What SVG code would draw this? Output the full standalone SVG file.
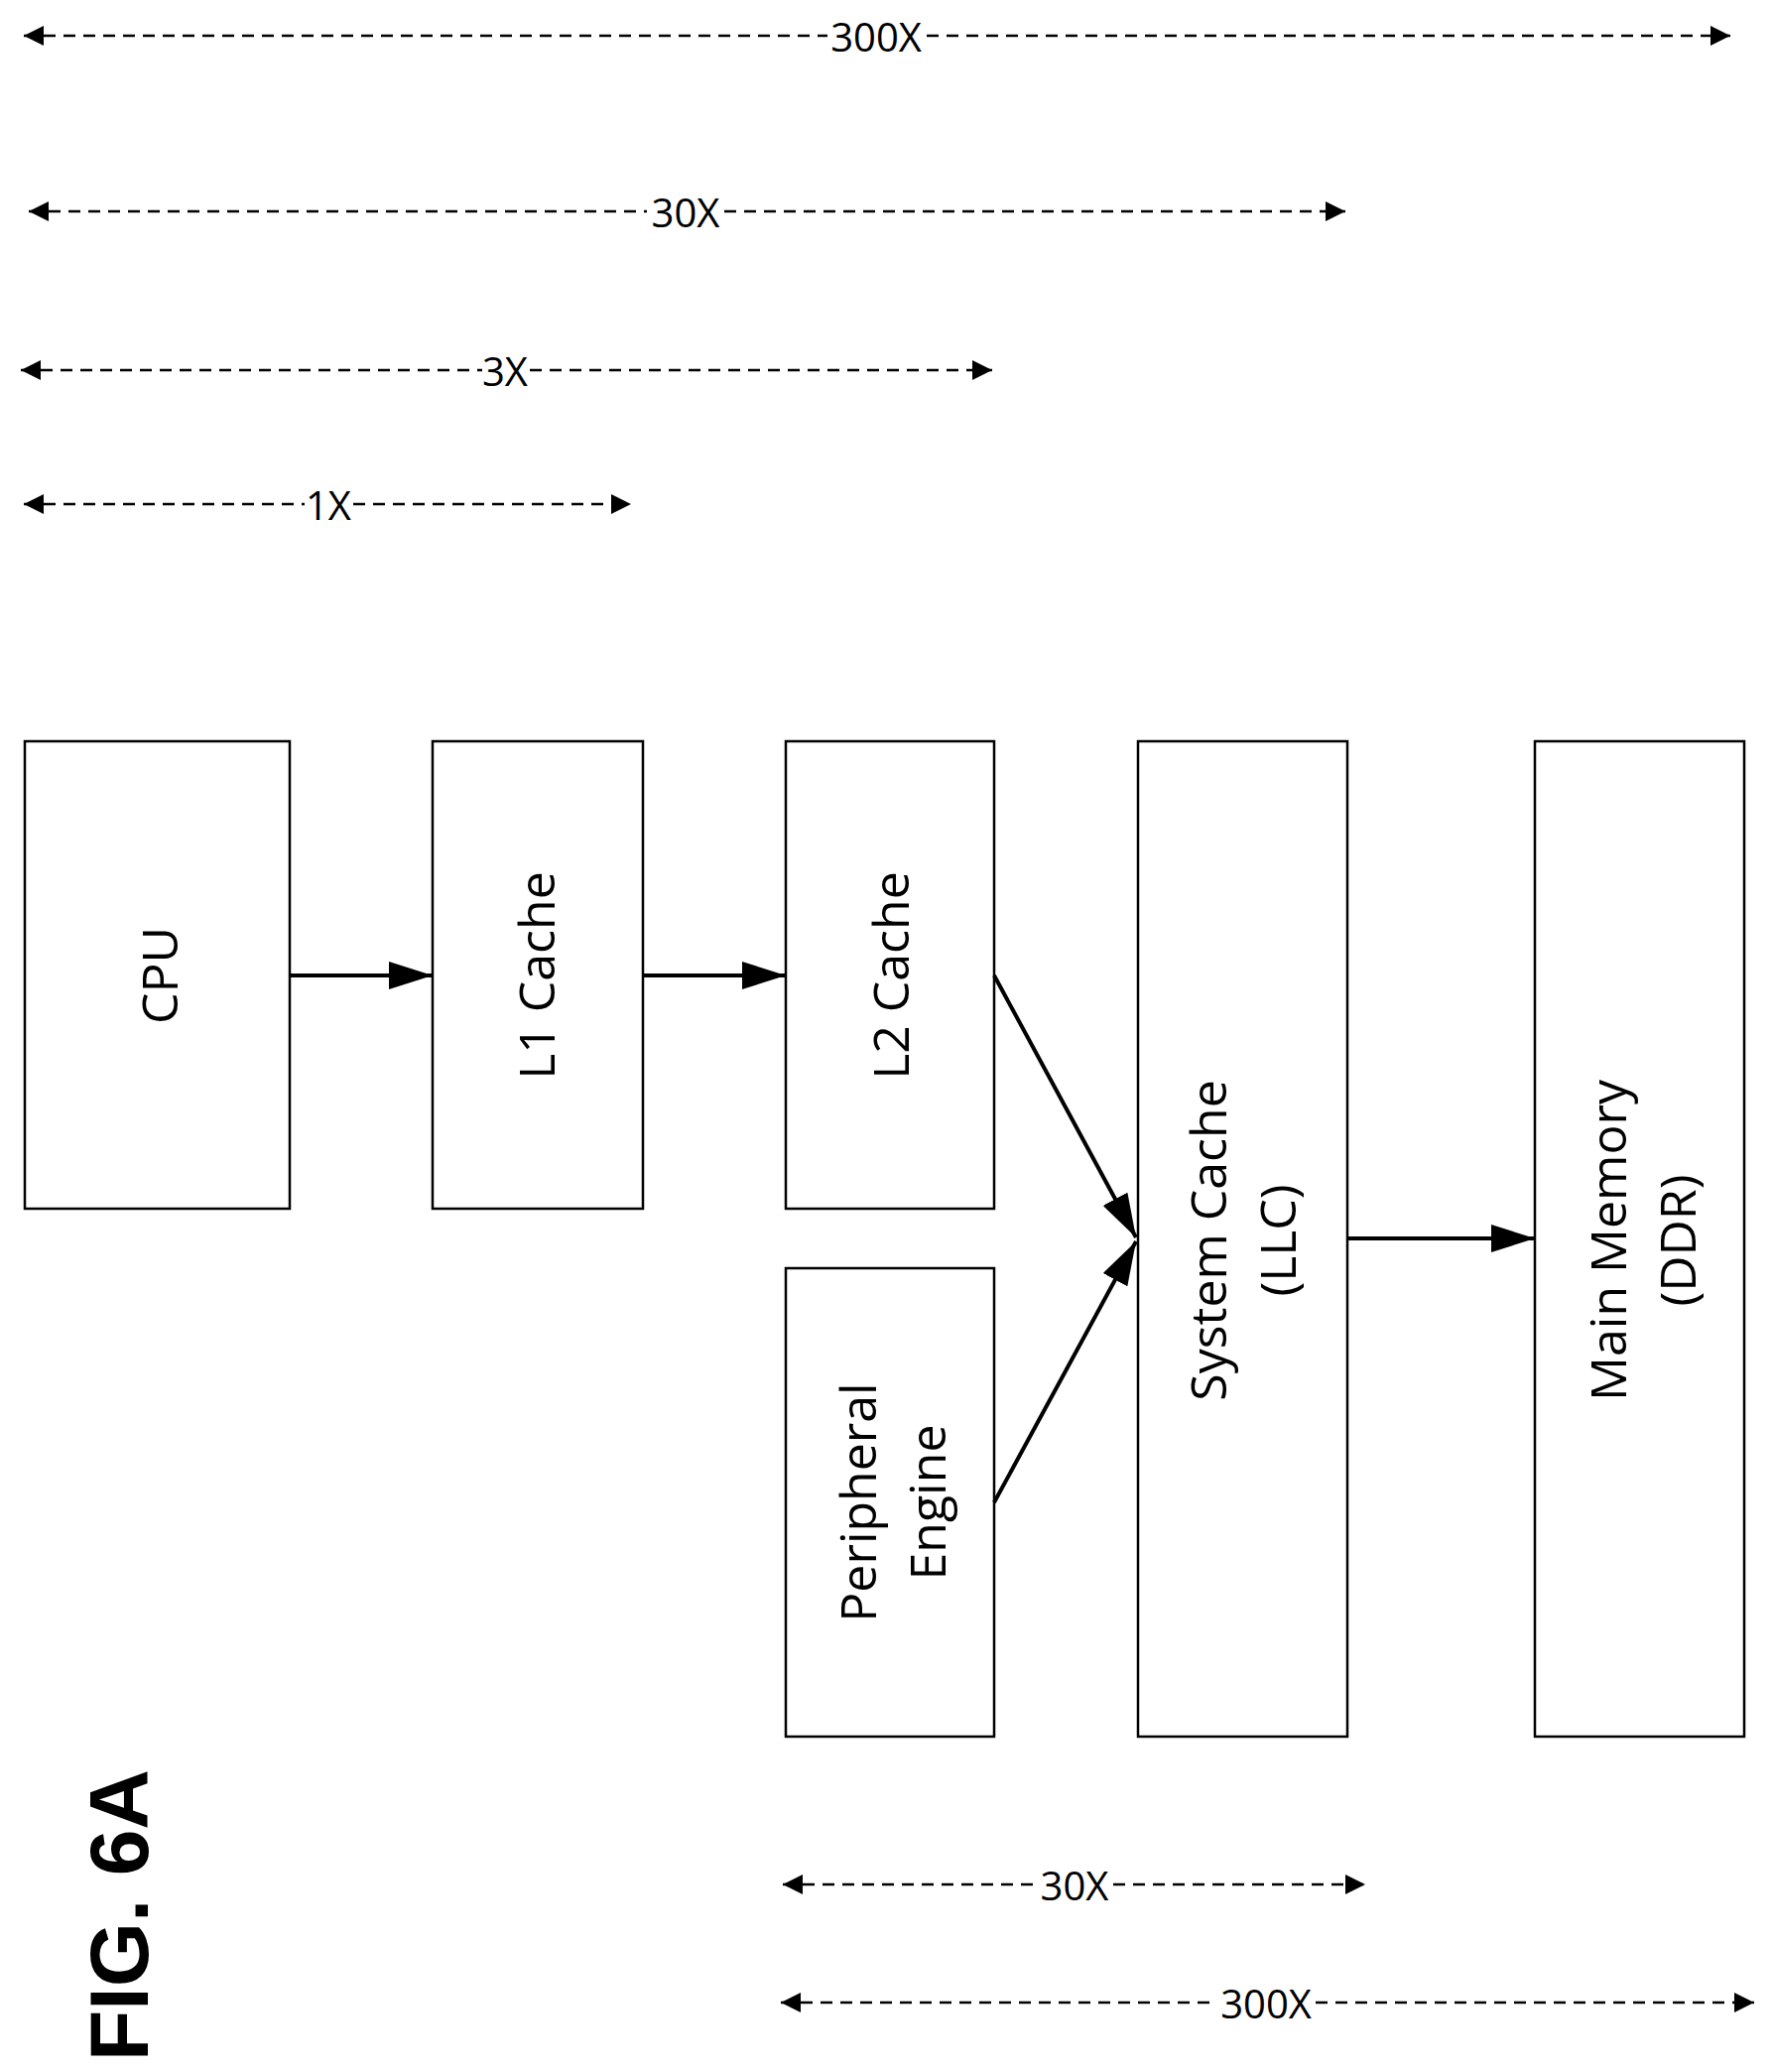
<svg xmlns="http://www.w3.org/2000/svg" width="1787" height="2088" viewBox="0 0 1787 2088">
<style>
.box{fill:#fff;stroke:#000;stroke-width:2.5}
.lbl{font-family:"Open Sans","Liberation Sans",sans-serif;font-size:50px;fill:#000;text-anchor:middle;dominant-baseline:central}
.dim{font-family:"Open Sans","Liberation Sans",sans-serif;font-size:40px;fill:#000;text-anchor:middle;dominant-baseline:central}
.dl{stroke:#000;stroke-width:2.5;stroke-dasharray:12,8;fill:none}
.ar{stroke:#000;stroke-width:4;fill:none}
</style>
<defs>
<marker id="sh" viewBox="0 0 10 10" refX="10" refY="5" markerWidth="20" markerHeight="20" orient="auto-start-reverse" markerUnits="userSpaceOnUse"><path d="M0,0 L10,5 L0,10 Z" fill="#000"/></marker>
<marker id="bh" viewBox="0 0 10 10" refX="10" refY="5" markerWidth="44" markerHeight="28" orient="auto" markerUnits="userSpaceOnUse" preserveAspectRatio="none"><path d="M0,0 L10,5 L0,10 Z" fill="#000"/></marker>
</defs>
<g id="dims">
<line class="dl" x1="24" y1="36" x2="834" y2="36" marker-start="url(#sh)"/><line class="dl" x1="934" y1="36" x2="1744" y2="36" marker-end="url(#sh)"/><text class="dim" x="883" y="36">300X</text>
<line class="dl" x1="29" y1="213" x2="652" y2="213" marker-start="url(#sh)"/><line class="dl" x1="730" y1="213" x2="1356" y2="213" marker-end="url(#sh)"/><text class="dim" x="691" y="213">30X</text>
<line class="dl" x1="21" y1="373" x2="486" y2="373" marker-start="url(#sh)"/><line class="dl" x1="534" y1="373" x2="1000" y2="373" marker-end="url(#sh)"/><text class="dim" x="509" y="373">3X</text>
<line class="dl" x1="24" y1="508" x2="307" y2="508" marker-start="url(#sh)"/><line class="dl" x1="356" y1="508" x2="636" y2="508" marker-end="url(#sh)"/><text class="dim" x="331" y="508">1X</text>
<line class="dl" x1="789" y1="1899" x2="1044" y2="1899" marker-start="url(#sh)"/><line class="dl" x1="1122" y1="1899" x2="1376" y2="1899" marker-end="url(#sh)"/><text class="dim" x="1083" y="1899">30X</text>
<line class="dl" x1="787" y1="2018" x2="1226" y2="2018" marker-start="url(#sh)"/><line class="dl" x1="1326" y1="2018" x2="1768" y2="2018" marker-end="url(#sh)"/><text class="dim" x="1276" y="2018">300X</text>
</g>
<g id="cpu"><rect class="box" x="25" y="747" width="267" height="471"/><text class="lbl" transform="rotate(-90 160 983)" x="160" y="983">CPU</text></g>
<g id="l1"><rect class="box" x="436" y="747" width="212" height="471"/><text class="lbl" transform="rotate(-90 540 983)" x="540" y="983">L1 Cache</text></g>
<g id="l2"><rect class="box" x="792" y="747" width="210" height="471"/><text class="lbl" transform="rotate(-90 897 983)" x="897" y="983">L2 Cache</text></g>
<g id="peripheral"><rect class="box" x="792" y="1278" width="210" height="472"/><text class="lbl" transform="rotate(-90 898 1514)" x="898" y="1514"><tspan x="898" dy="-34">Peripheral</tspan><tspan x="898" dy="70">Engine</tspan></text></g>
<g id="llc"><rect class="box" x="1147" y="747" width="211" height="1003"/><text class="lbl" transform="rotate(-90 1252 1250)" x="1252" y="1250"><tspan x="1252" dy="-35">System Cache</tspan><tspan x="1252" dy="70">(LLC)</tspan></text></g>
<g id="ddr"><rect class="box" x="1547" y="747" width="211" height="1003"/><text class="lbl" transform="rotate(-90 1655 1250)" x="1655" y="1250"><tspan x="1655" dy="-35">Main Memory</tspan><tspan x="1655" dy="70">(DDR)</tspan></text></g>
<g id="connectors">
<line class="ar" x1="292" y1="983" x2="436" y2="983" marker-end="url(#bh)"/>
<line class="ar" x1="648" y1="983" x2="792" y2="983" marker-end="url(#bh)"/>
<line class="ar" x1="1002" y1="983" x2="1145" y2="1247" marker-end="url(#bh)"/>
<line class="ar" x1="1002" y1="1514" x2="1145" y2="1251" marker-end="url(#bh)"/>
<line class="ar" x1="1358" y1="1248" x2="1547" y2="1248" marker-end="url(#bh)"/>
</g>
<text transform="rotate(-90 120 1930)" x="120" y="1930" style="font-family:'Liberation Sans',Arial,sans-serif;font-weight:bold;font-size:84px;text-anchor:middle;dominant-baseline:central">FIG. 6A</text>
</svg>
